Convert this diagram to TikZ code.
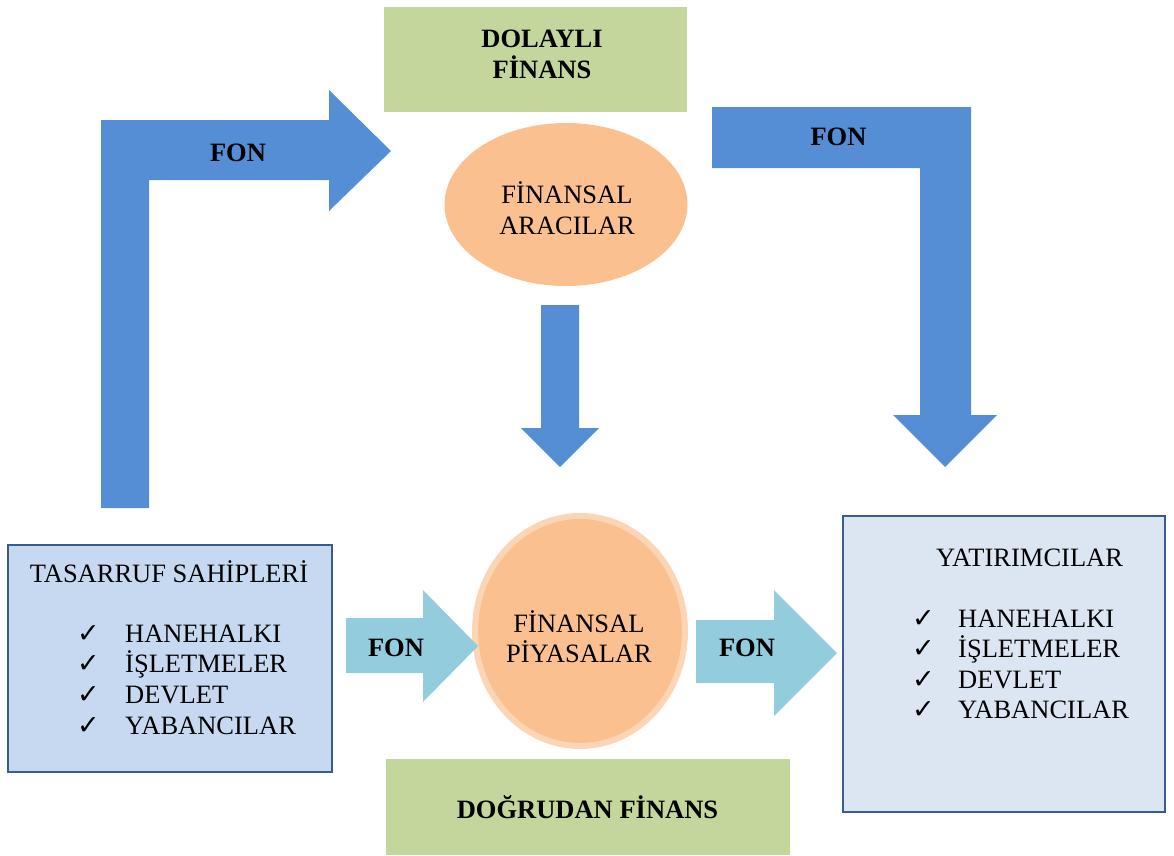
\documentclass[tikz,border=0pt]{standalone}
\usepackage{fontspec}
\setmainfont{Liberation Serif}
\newfontfamily\checkfont{DejaVu Sans}
\usetikzlibrary{shapes.geometric}

\definecolor{fundblue}{HTML}{558ED5}
\definecolor{fundcyan}{HTML}{93CDDD}
\definecolor{labelgreen}{HTML}{C3D69B}
\definecolor{peach}{HTML}{FAC090}
\definecolor{peachrim}{HTML}{FBD6B6}
\definecolor{saverfill}{HTML}{C6D9F1}
\definecolor{investfill}{HTML}{DCE6F2}
\definecolor{boxline}{HTML}{385D8A}

\tikzset{
  txt/.style={font=\fontsize{26.5}{30}\selectfont, inner sep=0pt, anchor=base},
  boldtxt/.style={txt, font=\fontsize{26.5}{30}\selectfont\bfseries},
  itemtxt/.style={txt, anchor=base west},
  tick/.style={font=\checkfont\fontsize{27}{30}\selectfont, inner sep=0pt, anchor=base west},
  bigflow/.style={fill=fundblue, draw=none},
  smallflow/.style={fill=fundcyan, draw=none},
  labelbox/.style={rectangle, fill=labelgreen, draw=none, inner sep=0pt},
  actorbox/.style={rectangle, draw=boxline, line width=1.3pt, inner sep=0pt},
  midoval/.style={ellipse, fill=peach, draw=none, inner sep=0pt}
}

\begin{document}
\begin{tikzpicture}[x=1pt, y=-1pt]
\useasboundingbox (0,0) rectangle (1174,855);

% label boxes
\node[labelbox, minimum width=303pt, minimum height=105pt] (indirect) at (535.5,59.5) {};
\node[boldtxt] (indirect1) at (542,47) {DOLAYLI};
\node[boldtxt] (indirect2) at (542,78) {FİNANS};

\node[labelbox, minimum width=404pt, minimum height=96pt] (direct) at (588,807) {};
\node[boldtxt] (direct1) at (587.5,818) {DOĞRUDAN FİNANS};

% intermediaries
\node[midoval, minimum width=243pt, minimum height=163pt] (interm) at (566,204.5) {};
\node[txt] (interm1) at (567,203) {FİNANSAL};
\node[txt] (interm2) at (567,234) {ARACILAR};

% markets
\draw[fill=peach, draw=peachrim, line width=6pt] (580,631) ellipse [x radius=105, y radius=115];
\node[inner sep=0pt, minimum size=0pt] (market) at (580,631) {};
\node[txt] (market1) at (579,632) {FİNANSAL};
\node[txt] (market2) at (579,662) {PİYASALAR};

% savers
\node[actorbox, fill=saverfill, minimum width=324pt, minimum height=227pt] (savers) at (170,658.5) {};
\node[txt] (saverstitle) at (169,582) {TASARRUF SAHİPLERİ};
\foreach \y/\t [count=\i] in {642/HANEHALKI, 672/İŞLETMELER, 703/DEVLET, 734/YABANCILAR}{
  \node[tick] (savertick\i) at (77,\y) {✓};
  \node[itemtxt] (saveritem\i) at (125,\y) {\t};
}

% investors
\node[actorbox, fill=investfill, minimum width=322pt, minimum height=296pt] (investors) at (1004,664) {};
\node[txt] (investorstitle) at (1029.5,566) {YATIRIMCILAR};
\foreach \y/\t [count=\i] in {627/HANEHALKI, 657/İŞLETMELER, 688/DEVLET, 718/YABANCILAR}{
  \node[tick] (invtick\i) at (912,\y) {✓};
  \node[itemtxt] (invitem\i) at (958,\y) {\t};
}

% bent flow from savers up to the intermediaries
\fill[bigflow] (101,508) -- (101,120) -- (329,120) -- (329,90) -- (391,151)
  -- (329,211) -- (329,180) -- (149,180) -- (149,508) -- cycle;
\node[boldtxt] (fonA) at (238,161) {FON};

% bent flow from the intermediaries down to investors
\fill[bigflow] (712,107) -- (971,107) -- (971,415) -- (997,415) -- (945,467)
  -- (893,415) -- (920,415) -- (920,168) -- (712,168) -- cycle;
\node[boldtxt] (fonB) at (838.5,145) {FON};

% intermediaries to markets
\fill[bigflow] (541,305) -- (579,305) -- (579,428) -- (599,428) -- (560,467)
  -- (521,428) -- (541,428) -- cycle;

% direct flows through the markets
\fill[smallflow] (346,618) -- (423,618) -- (423,590) -- (478,646) -- (423,702)
  -- (423,673) -- (346,673) -- cycle;
\node[boldtxt] (fonC) at (396,656) {FON};

\fill[smallflow] (696,620) -- (774,620) -- (774,590) -- (837,653) -- (774,716)
  -- (774,683) -- (696,683) -- cycle;
\node[boldtxt] (fonD) at (747,656) {FON};
\end{tikzpicture}
\end{document}
